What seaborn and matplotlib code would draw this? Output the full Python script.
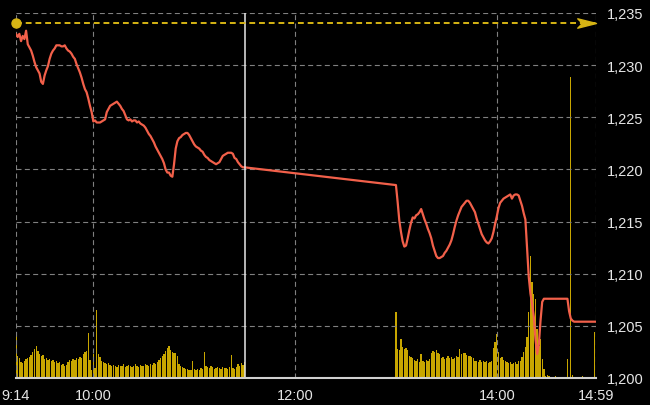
import pandas as pd
import matplotlib
matplotlib.use('Agg')
import matplotlib.pyplot as plt
from matplotlib.path import Path
import seaborn as sns

# Price per minute, morning session 9:14 - 11:30
am_prices = [1233.0, 1232.7, 1233.0, 1232.3, 1232.8, 1232.5, 1233.3, 1232.0, 1231.7, 1231.4,
             1230.9, 1230.3, 1229.8, 1229.5, 1229.2, 1228.4, 1228.2, 1229.0, 1229.5, 1229.9,
             1230.6, 1231.1, 1231.4, 1231.6, 1231.9, 1231.9, 1231.9, 1231.8, 1231.8, 1231.9,
             1231.6, 1231.4, 1231.3, 1231.1, 1230.8, 1230.6, 1230.1, 1229.7, 1229.3, 1228.8,
             1228.2, 1227.7, 1227.4, 1226.8, 1226.1, 1225.5, 1224.6, 1224.7, 1224.5, 1224.5,
             1224.5, 1224.6, 1224.7, 1224.8, 1225.5, 1225.8, 1226.1, 1226.2, 1226.3, 1226.4,
             1226.5, 1226.3, 1226.1, 1225.8, 1225.6, 1225.2, 1224.8, 1224.7, 1224.8, 1224.6,
             1224.7, 1224.7, 1224.5, 1224.6, 1224.4, 1224.3, 1224.2, 1224.0, 1223.7, 1223.4,
             1223.2, 1222.9, 1222.6, 1222.2, 1221.9, 1221.6, 1221.3, 1221.0, 1220.6, 1220.0,
             1219.7, 1219.7, 1219.4, 1219.3, 1220.5, 1222.0, 1222.7, 1223.0, 1223.1, 1223.3,
             1223.4, 1223.5, 1223.5, 1223.3, 1223.0, 1222.7, 1222.4, 1222.2, 1222.1, 1222.0,
             1221.8, 1221.7, 1221.4, 1221.2, 1221.1, 1220.9, 1220.8, 1220.7, 1220.6, 1220.5,
             1220.6, 1220.7, 1221.0, 1221.3, 1221.4, 1221.5, 1221.6, 1221.6, 1221.6, 1221.5,
             1221.1, 1221.0, 1220.7, 1220.5, 1220.3, 1220.2, 1220.2]

# Price per minute, afternoon session 13:00 - 14:59
pm_prices = [1218.5, 1216.9, 1215.1, 1214.0, 1213.1, 1212.6, 1212.7, 1213.4, 1214.2, 1214.9,
             1215.4, 1215.3, 1215.6, 1215.7, 1215.9, 1216.2, 1215.7, 1215.2, 1214.8, 1214.3,
             1213.9, 1213.4, 1212.7, 1212.2, 1211.7, 1211.5, 1211.5, 1211.6, 1211.7, 1212.0,
             1212.2, 1212.5, 1212.8, 1213.2, 1213.8, 1214.5, 1215.1, 1215.6, 1216.0, 1216.4,
             1216.6, 1216.8, 1217.0, 1217.0, 1216.8, 1216.5, 1216.2, 1215.9, 1215.3, 1214.8,
             1214.3, 1213.8, 1213.5, 1213.2, 1213.0, 1212.9, 1213.1, 1213.4, 1214.0, 1214.8,
             1215.5, 1216.3, 1216.8, 1217.0, 1217.2, 1217.3, 1217.4, 1217.5, 1217.6, 1217.2,
             1217.5, 1217.6, 1217.6, 1217.5, 1217.0, 1216.5, 1215.8, 1215.2, 1212.4, 1209.7,
             1208.1, 1207.1, 1205.9, 1203.7, 1202.3, 1203.2, 1205.5, 1207.3, 1207.6, 1207.6,
             1207.6, 1207.6, 1207.6, 1207.6, 1207.6, 1207.6, 1207.6, 1207.6, 1207.6, 1207.6,
             1207.6, 1207.6, 1207.6, 1206.4, 1205.7, 1205.5, 1205.4, 1205.4, 1205.4, 1205.4,
             1205.4, 1205.4, 1205.4, 1205.4, 1205.4, 1205.4, 1205.4, 1205.4, 1205.4, 1205.4]

# Volume per minute (no scale shown on the chart, relative units)
am_volume = [44, 22, 20, 16, 15, 17, 19, 20, 21, 23,
             26, 29, 32, 27, 24, 22, 23, 19, 20, 18,
             19, 17, 18, 16, 17, 15, 16, 13, 14, 12,
             13, 16, 18, 17, 19, 18, 20, 19, 21, 20,
             24, 26, 27, 45, 18, 8, 24, 10, 68, 24,
             21, 17, 16, 15, 14, 15, 13, 12, 13, 12,
             11, 13, 12, 12, 14, 11, 12, 13, 12, 11,
             12, 14, 12, 11, 13, 12, 12, 14, 13, 12,
             14, 13, 15, 14, 16, 18, 20, 22, 24, 27,
             30, 32, 28, 26, 25, 25, 22, 14, 12, 11,
             10, 9, 9, 8, 8, 17, 9, 8, 9, 8,
             10, 9, 26, 12, 11, 10, 12, 11, 9, 10,
             11, 10, 9, 11, 10, 10, 9, 11, 23, 10,
             9, 11, 14, 12, 15, 13, 16]

pm_volume = [66, 29, 28, 39, 31, 29, 30, 28, 22, 21,
             20, 18, 17, 19, 16, 24, 17, 16, 18, 17,
             19, 25, 27, 26, 28, 25, 24, 20, 21, 19,
             20, 22, 20, 21, 19, 20, 22, 21, 29, 24,
             25, 25, 23, 22, 22, 21, 20, 17, 17, 16,
             18, 16, 17, 16, 17, 15, 16, 17, 30, 36,
             44, 26, 20, 21, 18, 17, 16, 15, 16, 14,
             15, 16, 14, 17, 17, 21, 26, 31, 41, 66,
             122, 96, 84, 79, 49, 32, 39, 19, 9, 2,
             3, 2, 0, 0, 0, 2, 0, 0, 0, 0,
             0, 0, 19, 0, 301, 3, 0, 0, 0, 0,
             0, 2, 0, 0, 0, 0, 0, 1, 46, 0]

ref_price = 1234.0
price_ticks = [1200, 1205, 1210, 1215, 1220, 1225, 1230, 1235]
tick_times = ['09:14', '10:00', '12:00', '14:00', '14:59']
tick_labels = ['9:14', '10:00', '12:00', '14:00', '14:59']
lunch_time = '11:30'

day = '2024-01-02'
am_times = pd.date_range(f'{day} 09:14', periods=len(am_prices), freq='min')
pm_times = pd.date_range(f'{day} 13:00', periods=len(pm_prices), freq='min')
df = pd.DataFrame({'time': am_times.append(pm_times),
                   'price': am_prices + pm_prices,
                   'volume': am_volume + pm_volume})

sns.set_theme(style='dark', rc={'axes.facecolor': 'black', 'figure.facecolor': 'black'})
plt.rcParams['font.family'] = ['Liberation Sans', 'DejaVu Sans']

gold = '#d6b414'
text_col = '#e6e6e6'

fig = plt.figure(figsize=(6.5, 4.06), dpi=100)
ax = fig.add_axes([16 / 650, 27 / 406, 580 / 650, 365 / 406])
ax_vol = ax.twinx()
ax.set_zorder(ax_vol.get_zorder() + 1)
ax.patch.set_visible(False)

# volume bars (own scale, bottom layer)
ax_vol.bar(df['time'], df['volume'], width=0.8 / 1440, color='#c8a600', linewidth=0)
ax_vol.set_ylim(0, 365)
ax_vol.set_yticks([])
for s in ax_vol.spines.values():
    s.set_visible(False)

# price line
sns.lineplot(data=df, x='time', y='price', ax=ax, color='#f2604a', linewidth=1.6)

t0 = pd.Timestamp(f'{day} {tick_times[0]}')
t1 = pd.Timestamp(f'{day} {tick_times[-1]}')
ax.axvline(pd.Timestamp(f'{day} {lunch_time}'), color='#e8e8e8', linewidth=1.1)

# reference price: dot, dashed line, arrow head
ax.axhline(ref_price, color=gold, linestyle=(0, (3, 2)), linewidth=1.4)
ax.plot([t0], [ref_price], 'o', ms=6.5, color=gold, clip_on=False, zorder=5)
arrow = Path([(-2, 0.5), (0, 0), (-2, -0.5), (-1.5, 0), (-2, 0.5)],
             [Path.MOVETO, Path.LINETO, Path.LINETO, Path.LINETO, Path.CLOSEPOLY])
ax.plot([t1], [ref_price], marker=arrow, ms=27, color=gold, clip_on=False, zorder=5)

ax.set_xlim(t0, t1)
ax.set_ylim(price_ticks[0], price_ticks[-1])
ax.set_xticks([pd.Timestamp(f'{day} {t}') for t in tick_times])
ax.set_xticklabels(tick_labels)
ax.yaxis.tick_right()
ax.set_yticks(price_ticks)
ax.set_yticklabels([f'{v:,}' for v in price_ticks])
ax.set_xlabel('')
ax.set_ylabel('')

ax.grid(True, color='#808080', linestyle=(0, (4.5, 3)), linewidth=0.8)
for name, s in ax.spines.items():
    s.set_visible(name == 'bottom')
ax.spines['bottom'].set_color('#d0d0d0')
ax.spines['bottom'].set_linewidth(1.5)
ax.tick_params(axis='x', direction='in', length=4, width=1, color='#d0d0d0',
               labelcolor=text_col, labelsize=10.5, pad=7)
ax.tick_params(axis='y', length=0, labelcolor=text_col, labelsize=10.5, pad=8,
               left=False, right=False)

fig.savefig('out.png', dpi=100, facecolor='black')
